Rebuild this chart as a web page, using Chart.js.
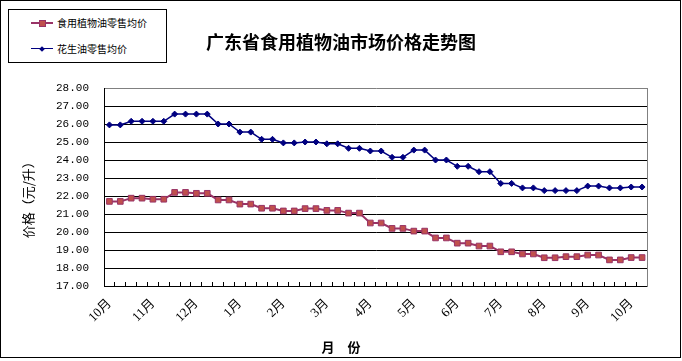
<!DOCTYPE html>
<html><head><meta charset="utf-8">
<script src="https://cdn.jsdelivr.net/npm/chart.js@4.4.0/dist/chart.umd.min.js"></script>
<style>
html,body{margin:0;padding:0;background:#fff;}
#wrap{position:relative;width:682px;height:361px;overflow:hidden;}
#c{position:absolute;left:0;top:0;}
#legend{position:absolute;left:8px;top:9px;width:157px;height:52px;border:1px solid #000;background:#fff;font:10px 'Noto Sans CJK SC',sans-serif;color:#000;}
.sym{position:absolute;left:22px;width:22px;height:12px;}
.ln{position:absolute;left:0;right:0;}
.mk{position:absolute;}
.txt{position:absolute;left:48px;height:12px;line-height:12px;white-space:nowrap;}
</style></head>
<body>
<div id="wrap">
<canvas id="c" width="682" height="361"></canvas>
<div id="legend">
  <div class="sym" style="top:7px"><div class="ln" style="top:5px;height:2px;background:#993366"></div><div class="mk" style="left:8px;top:3px;width:5px;height:5px;background:#C0504D;border:1px solid #993366"></div></div>
  <div class="txt" style="top:7px">食用植物油零售均价</div>
  <div class="sym" style="top:33px"><div class="ln" style="top:5px;height:1px;background:#000080"></div><div class="mk" style="left:9px;top:3.5px;width:4px;height:4px;background:#000080;transform:rotate(45deg)"></div></div>
  <div class="txt" style="top:33px">花生油零售均价</div>
</div>
</div>
<script>
const monthLabels = ['10月','11月','12月','1月','2月','3月','4月','5月','6月','7月','8月','9月','10月'];
const vegOilPrice = [21.70,21.70,21.88,21.88,21.82,21.82,22.20,22.20,22.15,22.15,21.78,21.78,21.55,21.55,21.32,21.32,21.17,21.17,21.30,21.30,21.20,21.20,21.05,21.05,20.50,20.50,20.20,20.20,20.05,20.05,19.67,19.67,19.38,19.38,19.22,19.22,18.90,18.90,18.78,18.78,18.57,18.57,18.63,18.63,18.72,18.72,18.45,18.45,18.58,18.58];
const peanutOilPrice = [25.95,25.95,26.15,26.15,26.15,26.15,26.55,26.55,26.55,26.55,26.00,26.00,25.55,25.55,25.15,25.15,24.95,24.95,25.00,25.00,24.90,24.90,24.65,24.65,24.50,24.50,24.15,24.15,24.55,24.55,24.00,24.00,23.65,23.65,23.35,23.35,22.70,22.70,22.45,22.45,22.30,22.30,22.30,22.30,22.55,22.55,22.45,22.45,22.50,22.50];
const seriesNames = ['食用植物油零售均价','花生油零售均价'];
const yMin = 17, yMax = 28, yStep = 1;

const categories = vegOilPrice.map((_, i) => (i % 4 === 0 && monthLabels[i/4]) ? monthLabels[i/4] : '');

const framePlugin = {
  id: 'frame',
  beforeDraw(chart) {
    const c = chart.ctx; c.save(); c.fillStyle = '#fff'; c.fillRect(0, 0, chart.width, chart.height); c.restore();
  },
  afterDraw(chart) {
    const c = chart.ctx;
    c.save();
    c.strokeStyle = '#000'; c.lineWidth = 1;
    c.strokeRect(0.5, 0.5, 680, 357);
    c.restore();
  }
};

const CJK = "'Noto Sans CJK SC', sans-serif";
new Chart(document.getElementById('c'), {
  type: 'line',
  data: {
    labels: categories,
    datasets: [
      { label: seriesNames[0], data: vegOilPrice, borderColor: '#993366', borderWidth: 2, backgroundColor: '#C0504D',
        pointStyle: 'rect', pointRadius: 4, pointBackgroundColor: '#C0504D', pointBorderColor: '#993366', pointBorderWidth: 1, tension: 0 },
      { label: seriesNames[1], data: peanutOilPrice, borderColor: '#000080', borderWidth: 1.5, backgroundColor: '#000080',
        pointStyle: 'rectRot', pointRadius: 3, pointBackgroundColor: '#000080', pointBorderColor: '#000080', pointBorderWidth: 1, tension: 0 }
    ]
  },
  options: {
    responsive: false, animation: false, devicePixelRatio: 1,
    layout: { padding: 0 },
    plugins: {
      legend: { display: false }, tooltip: { enabled: false },
      title: { display: true, text: '广东省食用植物油市场价格走势图', color: '#000',
        font: { family: CJK, size: 18, weight: 'bold' }, padding: { top: 31.2, bottom: 35.2 } },
      subtitle: { display: true, position: 'bottom', text: '月\u3000份', color: '#000',
        font: { family: CJK, size: 13, weight: 'bold' }, padding: { top: 0, bottom: 6 } }
    },
    scales: {
      x: {
        offset: true,
        grid: { offset: true, drawOnChartArea: true, drawTicks: false, color: '#000', lineWidth: 1 },
        border: { display: true, color: '#000', width: 1, dash: [4, 2000],
          dashOffset: (ctx) => { const a = ctx.chart.chartArea; const h = a ? (a.bottom - a.top) : 198; return 2008 - h; } },
        ticks: { autoSkip: false, maxRotation: 45, minRotation: 45, padding: 10, color: '#000',
          font: { family: "'Liberation Serif', 'Noto Sans CJK SC', serif", size: 13 } },
        afterFit(s) { s.height = 53.4; }
      },
      y: {
        min: yMin, max: yMax,
        ticks: { stepSize: yStep, padding: 15, color: '#000', callback: v => Number(v).toFixed(2),
          font: { family: "'Liberation Mono', monospace", size: 11 } },
        grid: { drawTicks: false, color: (c) => (c.tick && c.tick.value === yMax) ? '#808080' : '#000', lineWidth: 1 },
        border: { display: true, color: '#000', width: 1 },
        title: { display: true, text: '价格（元/升）\u3000\u3000', color: '#000', padding: { top: 20, bottom: 0 },
          font: { family: CJK, size: 13 } },
        afterFit(s) { s.width = 104; }
      },
      yRight: {
        position: 'right', display: true, min: yMin, max: yMax,
        ticks: { display: false },
        grid: { drawOnChartArea: false, drawTicks: false },
        border: { display: true, color: '#808080', width: 1 },
        afterFit(s) { s.width = 34.5; }
      }
    }
  },
  plugins: [framePlugin]
});
</script>
</body></html>
